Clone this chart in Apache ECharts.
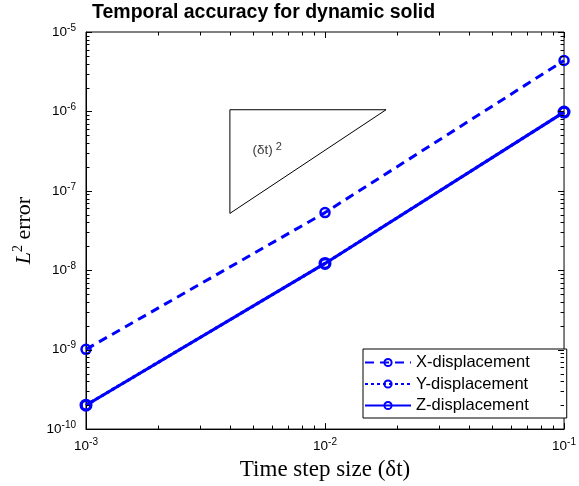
<!DOCTYPE html>
<html>
<head>
<meta charset="utf-8">
<script src="https://cdn.jsdelivr.net/npm/echarts@6/dist/echarts.min.js"></script>
<style>
  html, body { margin: 0; padding: 0; background: #fff; }
  #chart { width: 579px; height: 486px; }
</style>
</head>
<body>
<div id="chart"></div>
<script>
// Time step sizes and L2 errors of each displacement component
const dt = [1e-3, 1e-2, 1e-1];
const errX = [1.01e-9, 5.32e-8, 4.38e-6];
const errY = [2.0e-10, 1.22e-8, 9.8e-7];
const errZ = [2.0e-10, 1.22e-8, 9.8e-7];

// Second-order reference slope triangle
const slopeDt = [4e-3, 4e-3, 1.8e-2, 4e-3];
const slopeErr = [5.2e-8, 1.05e-6, 1.05e-6, 5.2e-8];
const slopeLabelAt = [4.97e-3, 3.23e-7];

// Axis ranges and decade ticks
const X_MIN = 1e-3, X_MAX = 1e-1;
const Y_MIN = 1e-10, Y_MAX = 1e-5;
const xDecades = [1e-3, 1e-2, 1e-1];
const yDecades = [1e-10, 1e-9, 1e-8, 1e-7, 1e-6, 1e-5];
const minorMantissas = [2, 3, 4, 5, 6, 7, 8, 9];

const BLUE = '#0000ff';
const SANS = '"Liberation Sans", Arial, Helvetica, sans-serif';
const SERIF = '"Liberation Serif", "Times New Roman", serif';

// Tick marks on all four sides (0 = x tick, 1 = y tick; last field = major)
const tickData = [];
xDecades.forEach(v => tickData.push([v, Y_MIN, 0, 1]));
yDecades.forEach(v => tickData.push([X_MIN, v, 1, 1]));
xDecades.slice(0, -1).forEach(d => minorMantissas.forEach(m => tickData.push([m * d, Y_MIN, 0, 0])));
yDecades.slice(0, -1).forEach(d => minorMantissas.forEach(m => tickData.push([X_MIN, m * d, 1, 0])));

function renderTicks(params, api) {
  const kind = api.value(2);
  const len = api.value(3) ? 6 : 3.5;
  const st = { stroke: '#000', lineWidth: 1 };
  if (kind === 0) {
    const v = api.value(0);
    const b = api.coord([v, Y_MIN]);
    const t = api.coord([v, Y_MAX]);
    const x = Math.round(b[0]) + 0.5;
    return { type: 'group', children: [
      { type: 'line', shape: { x1: x, y1: b[1], x2: x, y2: b[1] - len }, style: st },
      { type: 'line', shape: { x1: x, y1: t[1], x2: x, y2: t[1] + len }, style: st }
    ] };
  }
  const v = api.value(1);
  const l = api.coord([X_MIN, v]);
  const r = api.coord([X_MAX, v]);
  const y = Math.round(l[1]) + 0.5;
  return { type: 'group', children: [
    { type: 'line', shape: { x1: l[0], y1: y, x2: l[0] + len, y2: y }, style: st },
    { type: 'line', shape: { x1: r[0], y1: y, x2: r[0] - len, y2: y }, style: st }
  ] };
}

function powerLabel(value) {
  const e = Math.round(Math.log10(value));
  return '{b|10}{s|' + e + '}';
}
const powerRich = {
  b: { fontFamily: SANS, fontSize: 13.5, color: '#000', lineHeight: 18 },
  s: { fontFamily: SANS, fontSize: 10, color: '#000', lineHeight: 10, verticalAlign: 'top' }
};

const pairs = arr => dt.map((d, i) => [d, arr[i]]);

const option = {
  animation: false,
  backgroundColor: '#fff',
  title: {
    text: 'Temporal accuracy for dynamic solid',
    left: 92, top: 3, padding: 0,
    textStyle: { fontFamily: SANS, fontWeight: 'bold', fontSize: 19.5, color: '#000' }
  },
  grid: {
    left: 86, right: 13, top: 32, bottom: 56,
    show: true, borderColor: '#000', borderWidth: 1, backgroundColor: 'transparent'
  },
  legend: {
    orient: 'vertical',
    left: 363, top: 349,
    padding: [5, 37, 4, 1],
    itemWidth: 46, itemHeight: 9, itemGap: 4.5,
    borderColor: '#000', borderWidth: 1, backgroundColor: '#fff',
    textStyle: { fontFamily: SANS, fontSize: 16.5, color: '#000', lineHeight: 17 },
    data: ['X-displacement', 'Y-displacement', 'Z-displacement']
  },
  xAxis: {
    type: 'log', logBase: 10, min: X_MIN, max: X_MAX,
    name: 'Time step size (δt)',
    nameLocation: 'middle', nameGap: 18,
    nameTextStyle: { fontFamily: SERIF, fontSize: 23, color: '#000', verticalAlign: 'top' },
    axisLine: { lineStyle: { color: '#000', width: 1 } },
    axisTick: { show: false },
    minorTick: { show: false },
    splitLine: { show: false },
    axisLabel: { margin: 8, color: '#000', fontFamily: SANS, fontSize: 13.5, formatter: powerLabel, rich: powerRich }
  },
  yAxis: {
    type: 'log', logBase: 10, min: Y_MIN, max: Y_MAX,
    name: '{i|L}{s|2}{n| error}',
    nameLocation: 'middle', nameGap: 47, nameRotate: 90,
    nameTextStyle: {
      color: '#000',
      rich: {
        i: { fontFamily: SERIF, fontStyle: 'italic', fontSize: 22, color: '#000', lineHeight: 26 },
        s: { fontFamily: SERIF, fontSize: 14, color: '#000', lineHeight: 13, verticalAlign: 'top' },
        n: { fontFamily: SERIF, fontSize: 22, color: '#000', lineHeight: 26 }
      }
    },
    axisLine: { lineStyle: { color: '#000', width: 1 } },
    axisTick: { show: false },
    minorTick: { show: false },
    splitLine: { show: false },
    axisLabel: { margin: 10, color: '#000', fontFamily: SANS, fontSize: 13.5, formatter: powerLabel, rich: powerRich }
  },
  series: [
    {
      name: 'slope', type: 'line', data: slopeDt.map((d, i) => [d, slopeErr[i]]),
      showSymbol: false, symbol: 'none', silent: true, z: 1,
      lineStyle: { color: '#000', width: 1 }
    },
    {
      name: 'slope label', type: 'scatter', data: [slopeLabelAt],
      symbolSize: 0, silent: true,
      label: {
        show: true, position: 'right', distance: 0, color: '#000',
        formatter: '{a|(δt)}{s| 2}',
        rich: {
          a: { fontFamily: SANS, fontSize: 13.5, color: '#000', lineHeight: 18 },
          s: { fontFamily: SANS, fontSize: 11, color: '#000', lineHeight: 10, verticalAlign: 'top' }
        }
      }
    },
    {
      name: 'X-displacement', type: 'line', data: pairs(errX),
      symbol: 'circle', symbolSize: 9,
      itemStyle: { color: 'rgba(255,255,255,0)', borderColor: BLUE, borderWidth: 2.5 },
      lineStyle: { color: BLUE, width: 3, type: [9, 6] }, z: 3
    },
    {
      name: 'Y-displacement', type: 'line', data: pairs(errY),
      symbol: 'circle', symbolSize: 10,
      itemStyle: { color: 'rgba(255,255,255,0)', borderColor: BLUE, borderWidth: 3 },
      lineStyle: { color: BLUE, width: 3, type: [3, 3] }, z: 3
    },
    {
      name: 'Z-displacement', type: 'line', data: pairs(errZ),
      symbol: 'circle', symbolSize: 9,
      itemStyle: { color: 'rgba(255,255,255,0)', borderColor: BLUE, borderWidth: 2.5 },
      lineStyle: { color: BLUE, width: 3 }, z: 4
    },
    {
      name: 'ticks', type: 'custom', data: tickData,
      encode: { x: 0, y: 1 }, renderItem: renderTicks,
      silent: true, clip: false, z: 10
    }
  ]
};

const chart = echarts.init(document.getElementById('chart'), null, { renderer: 'canvas' });
chart.setOption(option);
</script>
</body>
</html>
